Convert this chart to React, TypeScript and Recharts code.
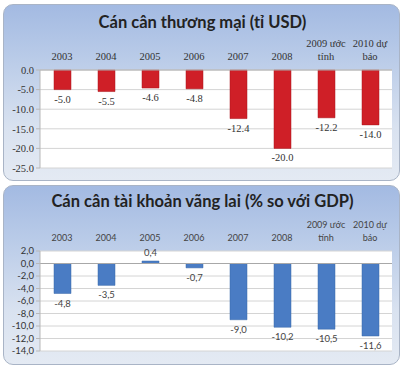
import { BarChart, Bar, XAxis, YAxis, CartesianGrid, ReferenceLine } from "recharts";

const years = ["2003", "2004", "2005", "2006", "2007", "2008", "2009 ước tính", "2010 dự báo"];
const yearLines = [["2003"], ["2004"], ["2005"], ["2006"], ["2007"], ["2008"], ["2009 ước", "tính"], ["2010 dự", "báo"]];
const tradeBalance = [-5.0, -5.5, -4.6, -4.8, -12.4, -20.0, -12.2, -14.0];
const currentAccount = [-4.8, -3.5, 0.4, -0.7, -9.0, -10.2, -10.5, -11.6];
const tradeTicks = [0, -5, -10, -15, -20, -25];
const caTicks = [2, 0, -2, -4, -6, -8, -10, -12, -14];

const tradeData = years.map((y, i) => ({ year: y, lines: yearLines[i], value: tradeBalance[i] }));
const caData = years.map((y, i) => ({ year: y, lines: yearLines[i], value: currentAccount[i] }));

const serif = "'Liberation Serif', 'DejaVu Serif', serif";
const sans = "Lato, 'Liberation Sans', sans-serif";

const panelStyle = (top: number, height: number): React.CSSProperties => ({
  position: "absolute",
  left: 3,
  top,
  width: 397,
  height,
  borderRadius: 10,
  border: "1px solid #a9b4c6",
  background: "linear-gradient(#a3bae2 0%, #b9cbe8 30%, #d9e2f0 70%, #e4eaf3 100%)",
  boxSizing: "border-box",
});

const titleStyle = (top: number, size: number): React.CSSProperties => ({
  position: "absolute",
  left: 0,
  top,
  width: 405,
  textAlign: "center",
  fontFamily: sans,
  fontWeight: 700,
  fontSize: size,
  lineHeight: "24px",
  color: "#222",
  whiteSpace: "nowrap",
});

const makeTick = (font: string, size: number, color: string) => (props: any) => {
  const { x, y, payload, index } = props;
  const lines: string[] = yearLines[index] || [payload.value];
  return (
    <text x={x} y={y} textAnchor="middle" fontFamily={font} fontSize={size} fill={color}>
      {lines.map((l, i) => (
        <tspan key={i} x={x} dy={i === 0 ? -(lines.length - 1) * 13 - 2 : 13}>
          {l}
        </tspan>
      ))}
    </text>
  );
};

const makeLabel = (font: string, size: number, color: string, comma: boolean) => (props: any) => {
  const { x, y, width, height, value } = props;
  const top = Math.min(y, y + height);
  const bottom = Math.max(y, y + height);
  const txt = comma ? value.toFixed(1).replace(".", ",") : value.toFixed(1);
  const ty = value >= 0 ? top - 5 : bottom + 13;
  return (
    <text x={x + width / 2} y={ty} textAnchor="middle" fontFamily={font} fontSize={size} fill={color}>
      {txt}
    </text>
  );
};

export default function App() {
  return (
    <div style={{ position: "absolute", left: 0, top: 0, width: 405, height: 366, background: "#fff" }}>
      <div style={panelStyle(4, 177)} />
      <div style={panelStyle(185, 180)} />
      <div style={titleStyle(10, 16.5)}>Cán cân thương mại (tỉ USD)</div>
      <div style={titleStyle(189, 16.5)}>Cán cân tài khoản vãng lai (% so với GDP)</div>

      <div style={{ position: "absolute", left: 0, top: 0, fontFamily: serif }}>
        <BarChart width={405} height={180} data={tradeData} margin={{ top: 40, right: 13, bottom: 12, left: 0 }}>
          <CartesianGrid vertical={false} fill="#fff" stroke="#d4d4d4" />
          <XAxis
            dataKey="year"
            orientation="top"
            height={30}
            interval={0}
            axisLine={{ stroke: "#b0b0b0" }}
            tickLine={false}
            tick={makeTick(serif, 10.5, "#333")}
          />
          <YAxis
            domain={[-25, 0]}
            ticks={tradeTicks}
            width={40}
            interval={0}
            axisLine={{ stroke: "#b8b8b8" }}
            tickLine={{ stroke: "#b8b8b8" }}
            tickSize={4}
            tick={{ fontFamily: serif, fontSize: 10.5, fill: "#333" }}
            tickFormatter={(v: number) => v.toFixed(1)}
          />
          <Bar dataKey="value" fill="#cf1f27" stroke="#a8161c" strokeWidth={0.5} barSize={17} isAnimationActive={false} label={makeLabel(serif, 10.5, "#333", false)} />
        </BarChart>
      </div>

      <div style={{ position: "absolute", left: 0, top: 183, fontFamily: sans }}>
        <BarChart width={405} height={183} data={caData} margin={{ top: 38, right: 13, bottom: 15, left: 0 }}>
          <CartesianGrid vertical={false} fill="#fff" stroke="#d4d4d4" />
          <XAxis
            dataKey="year"
            orientation="top"
            height={30}
            interval={0}
            axisLine={false}
            tickLine={false}
            tick={makeTick(sans, 9, "#444")}
          />
          <YAxis
            domain={[-14, 2]}
            ticks={caTicks}
            width={40}
            interval={0}
            axisLine={{ stroke: "#b8b8b8" }}
            tickLine={{ stroke: "#b8b8b8" }}
            tickSize={4}
            tick={{ fontFamily: sans, fontSize: 9.5, fill: "#333" }}
            tickFormatter={(v: number) => v.toFixed(1).replace(".", ",")}
          />
          <ReferenceLine y={0} stroke="#a8a8a8" />
          <Bar dataKey="value" fill="#4a7cc4" stroke="#3b68a8" strokeWidth={0.5} barSize={17} isAnimationActive={false} label={makeLabel(sans, 9.5, "#444", true)} />
        </BarChart>
      </div>
    </div>
  );
}
